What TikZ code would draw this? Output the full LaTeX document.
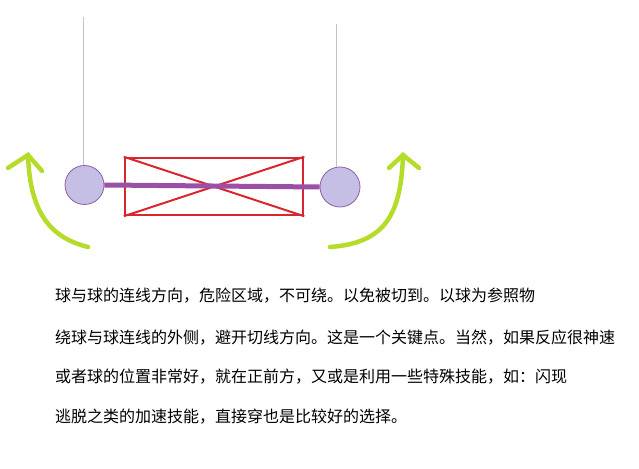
\documentclass[tikz,border=0pt]{standalone}
\usepackage{fontspec}
\newfontfamily\cjk{Noto Sans CJK SC}
\definecolor{ballfill}{RGB}{197,191,229}
\definecolor{balledge}{RGB}{142,95,163}
\definecolor{linkpurple}{RGB}{155,79,166}
\definecolor{zonered}{RGB}{217,38,46}
\definecolor{arrowgreen}{RGB}{180,220,40}
\definecolor{stringgrey}{RGB}{192,192,208}
\tikzset{
  ball/.style={circle,draw=balledge,fill=ballfill,line width=0.8bp,minimum size=39bp,inner sep=0pt},
  stringline/.style={draw=stringgrey,line width=1bp},
  link/.style={draw=linkpurple,line width=5bp},
  zone/.style={draw=zonered,line width=2.5bp,rectangle,minimum width=178bp,minimum height=57bp,inner sep=0pt},
  zonediag/.style={draw=zonered,line width=2bp},
  dodge/.style={draw=arrowgreen,line width=4.5bp,line cap=round},
  caption/.style={anchor=west,inner sep=0pt,font=\cjk\fontsize{16bp}{20bp}\selectfont,text=black}
}
\begin{document}
\begin{tikzpicture}[x=1bp,y=-1bp]
\useasboundingbox (0,0) rectangle (639,469);
% balls
\node[ball] (L) at (84.5,185) {};
\node[ball,minimum size=40bp] (R) at (340,187) {};
% strings
\coordinate (Ltop) at (83,17);
\coordinate (Rtop) at (336,24);
\draw[stringline] (Ltop) -- (Ltop |- L.north);
\draw[stringline] (Rtop) -- (Rtop |- R.north);
% danger zone
\node[zone] (Z) at (214,186.5) {};
\draw[zonediag] (Z.north west) -- (Z.south east);
\draw[zonediag] (Z.south west) -- (Z.north east);
% link between balls
\draw[link] (L.east) -- (R.west);
% left dodge arrow
\coordinate (las) at (88,247);
\coordinate (lat) at (28,155);
\coordinate (la1) at (8,168);
\coordinate (la2) at (42,171);
\draw[dodge] (las) .. controls (52,238) and (30,215) .. (lat);
\draw[dodge] (la1) -- (lat) -- (la2);
% right dodge arrow
\coordinate (ras) at (330,247);
\coordinate (rat) at (403,155);
\coordinate (ra1) at (389,168);
\coordinate (ra2) at (419,168);
\draw[dodge] (ras) .. controls (385,243) and (401,215) .. (rat);
\draw[dodge] (ra1) -- (rat) -- (ra2);
% text
\node[caption] (t1) at (55,296) {球与球的连线方向，危险区域，不可绕。以免被切到。以球为参照物};
\node[caption] (t2) at (55,338) {绕球与球连线的外侧，避开切线方向。这是一个关键点。当然，如果反应很神速};
\node[caption] (t3) at (55,377) {或者球的位置非常好，就在正前方，又或是利用一些特殊技能，如：闪现};
\node[caption] (t4) at (55,416.5) {逃脱之类的加速技能，直接穿也是比较好的选择。};
\end{tikzpicture}
\end{document}
